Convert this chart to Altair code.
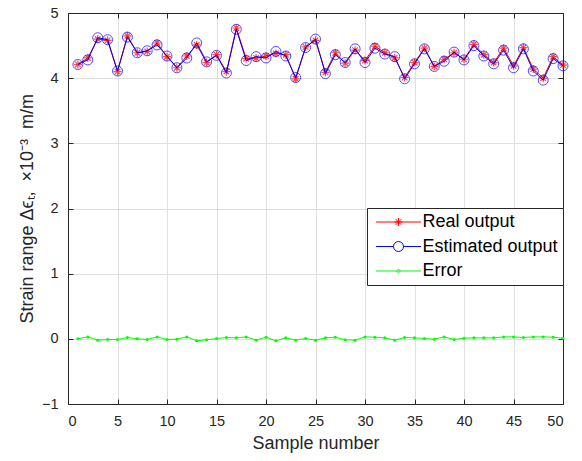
import altair as alt
import pandas as pd

samples = list(range(1, 51))
real_output = [4.21, 4.31, 4.60, 4.58, 4.10, 4.65, 4.39, 4.41, 4.54, 4.33,
               4.16, 4.34, 4.51, 4.24, 4.36, 4.10, 4.77, 4.30, 4.31, 4.34,
               4.38, 4.36, 3.99, 4.48, 4.58, 4.09, 4.39, 4.23, 4.43, 4.27,
               4.49, 4.39, 4.31, 4.01, 4.24, 4.46, 4.18, 4.29, 4.39, 4.29,
               4.52, 4.36, 4.24, 4.46, 4.19, 4.47, 4.14, 4.00, 4.33, 4.20]
estimated_output = [4.21, 4.28, 4.62, 4.59, 4.11, 4.63, 4.39, 4.42, 4.51, 4.34,
                    4.16, 4.31, 4.54, 4.25, 4.35, 4.08, 4.75, 4.27, 4.33, 4.31,
                    4.41, 4.34, 4.01, 4.47, 4.60, 4.07, 4.36, 4.24, 4.45, 4.24,
                    4.46, 4.37, 4.33, 3.99, 4.22, 4.45, 4.18, 4.26, 4.40, 4.28,
                    4.50, 4.34, 4.22, 4.43, 4.16, 4.45, 4.11, 3.97, 4.30, 4.19]
error = [0.00, 0.03, -0.02, -0.01, -0.01, 0.02, 0.00, -0.01, 0.03, -0.01,
         -0.005, 0.03, -0.03, -0.015, 0.005, 0.02, 0.015, 0.03, -0.02, 0.025,
         -0.03, 0.015, -0.02, 0.005, -0.02, 0.015, 0.025, -0.015, -0.02, 0.03,
         0.025, 0.015, -0.02, 0.02, 0.015, 0.005, -0.005, 0.03, -0.01, 0.01,
         0.015, 0.015, 0.015, 0.03, 0.03, 0.02, 0.03, 0.03, 0.025, 0.01]
series_names = ["Real output", "Estimated output", "Error"]
series_colors = ["#ff0000", "#0000ff", "#00ff00"]
x_ticks = list(range(0, 51, 5))
y_ticks = list(range(-1, 6))

df = pd.DataFrame({"sample": samples, "real": real_output,
                   "est": estimated_output, "err": error})
legend_df = pd.DataFrame({"series": series_names, "sample": samples[:3],
                          "value": real_output[:3]})

FONT = "Liberation Sans"
AX = "#262626"
ASTERISK = "M-1,0H1M0,-1V1M-0.7,-0.7L0.7,0.7M-0.7,0.7L0.7,-0.7"
LEG_REAL = ("M-4.5,0H4.5M-0.8,0H0.8M0,-0.8V0.8"
            "M-0.56,-0.56L0.56,0.56M-0.56,0.56L0.56,-0.56")
LEG_EST = "M-4.5,0H-1M1,0H4.5M-1,0A1,1 0 1,1 1,0A1,1 0 1,1 -1,0"
LEG_ERR = "M-4.5,0H4.5M-0.3,0A0.3,0.3 0 1,1 0.3,0A0.3,0.3 0 1,1 -0.3,0"

NB = "\u00a0"
Y_TITLE = f"Strain range Δϵₜ,{NB*2}×10⁻³{NB*2}m/m"

xscale = alt.Scale(domain=[0, 50], nice=False, zero=False)
yscale = alt.Scale(domain=[-1, 5], nice=False, zero=False)

common_axis = dict(domainColor=AX, tickColor=AX, tickSize={"expr": "-5"},
                   labelFont=FONT, labelColor=AX, labelFontSize=14.5,
                   titleFont=FONT, titleColor=AX, titleFontSize=18,
                   titleFontWeight="normal")

x_axis = alt.Axis(values=x_ticks, grid=True, gridColor="#dfdfdf",
                  labelBaseline="alphabetic", labelPadding=26.5,
                  title="Sample number", titleBaseline="alphabetic",
                  titleY=44, **common_axis)
y_axis = alt.Axis(values=y_ticks, grid=True, gridColor="#dfdfdf",
                  labelPadding=15, title=Y_TITLE,
                  titleAngle=270, titleAlign="left", titleBaseline="alphabetic",
                  titleX=-36, titleY=310, **common_axis)
x_top = alt.Axis(values=x_ticks, orient="top", labels=False, title=None,
                 grid=False, **common_axis)
y_right = alt.Axis(values=y_ticks, orient="right", labels=False, title=None,
                   grid=False, **common_axis)


def X(axis=None):
    return alt.X("sample:Q", scale=xscale, axis=axis)


def Y(field, axis=None):
    return alt.Y(field, scale=yscale, axis=axis)


base = alt.Chart(df)
real_line = base.mark_line(color=series_colors[0], strokeWidth=1).encode(
    x=X(x_axis), y=Y("real:Q", y_axis))
real_pts = base.mark_point(shape=ASTERISK, color=series_colors[0], size=64,
                           strokeWidth=1.2, filled=False).encode(x=X(), y=Y("real:Q"))
est_line = base.mark_line(color=series_colors[1], strokeWidth=1).encode(
    x=X(), y=Y("est:Q"))
est_pts = base.mark_point(shape="circle", color=series_colors[1], size=100,
                          strokeWidth=1, filled=False).encode(x=X(), y=Y("est:Q"))
err_line = base.mark_line(color=series_colors[2], strokeWidth=1).encode(
    x=X(), y=Y("err:Q"))
err_pts = base.mark_point(shape="circle", color=series_colors[2], size=9,
                          filled=True, opacity=1).encode(x=X(), y=Y("err:Q"))
frame = base.mark_point(opacity=0).encode(x=X(x_top), y=Y("real:Q", y_right))

leg = alt.Legend(title=None, orient="none", legendX=299, legendY=195,
                 symbolSize=100, symbolStrokeWidth=1, symbolOffset=17.5,
                 labelOffset=15, labelFont=FONT, labelFontSize=18,
                 labelColor="black", padding=5, rowPadding=6.5,
                 strokeColor=AX, fillColor="white", symbolOpacity=1)
legend_layer = alt.Chart(legend_df).mark_point(
    opacity=0, filled=False, strokeWidth=1).encode(
    x=X(), y=Y("value:Q"),
    shape=alt.Shape("series:N", scale=alt.Scale(
        domain=series_names, range=[LEG_REAL, LEG_EST, LEG_ERR]), legend=leg),
    color=alt.Color("series:N", scale=alt.Scale(
        domain=series_names, range=series_colors), legend=leg))

chart = alt.layer(real_line, real_pts, est_line, est_pts, err_line, err_pts,
                  frame, legend_layer).resolve_axis(
    x="independent", y="independent").properties(
    width=495, height=391,
    autosize=alt.AutoSizeParams(type="none"),
    padding={"left": 60, "top": 5, "right": 11, "bottom": 49},
).configure_view(stroke=AX, strokeWidth=1).configure(background="white")

chart.save("out.html", embed_options={"renderer": "svg", "actions": False})
